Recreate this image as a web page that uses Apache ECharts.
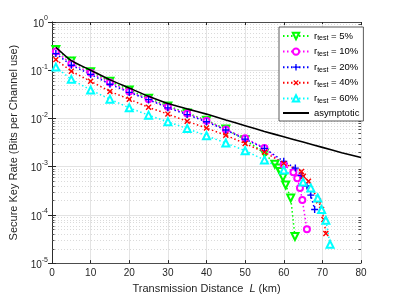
<!DOCTYPE html>
<html><head><meta charset="utf-8">
<script src="https://cdn.jsdelivr.net/npm/echarts@6/dist/echarts.min.js"></script>
<style>html,body{margin:0;padding:0;background:#fff}#c{width:399px;height:299px}</style>
</head><body><div id="c"></div>
<script>
// ---- data ----
const xTicks = [0, 10, 20, 30, 40, 50, 60, 70, 80];
const seriesNames = ['r_test = 5%', 'r_test = 10%', 'r_test = 20%', 'r_test = 40%', 'r_test = 60%', 'asymptotic'];

const L_5 = [1, 5, 10, 15, 20, 25, 30, 35, 40, 45, 50, 55, 57.7, 58.6, 59.2, 59.8, 60.5, 61.8, 62.9];
const R_5 = [0.269, 0.155, 0.0933, 0.0589, 0.0389, 0.0263, 0.0182, 0.0130, 0.00912, 0.00603, 0.00363, 0.00191, 0.00112, 0.000933, 0.000794, 0.000603, 0.000417, 0.000224, 0.0000355];

const L_10 = [1, 5, 10, 15, 20, 25, 30, 35, 40, 45, 50, 55, 60, 62.5, 63.5, 64.2, 64.8, 66];
const R_10 = [0.245, 0.136, 0.0881, 0.0555, 0.0363, 0.0251, 0.0174, 0.0126, 0.00891, 0.00589, 0.00389, 0.00245, 0.00110, 0.000767, 0.000575, 0.000363, 0.000204, 0.0000501];

const L_20 = [1, 5, 10, 15, 20, 25, 30, 35, 40, 45, 50, 55, 60, 63, 64.5, 66, 67, 68];
const R_20 = [0.221, 0.127, 0.082, 0.0513, 0.0347, 0.0245, 0.0166, 0.0120, 0.00851, 0.00575, 0.00372, 0.00240, 0.00129, 0.000933, 0.000661, 0.000398, 0.000257, 0.000129];

const L_40 = [1, 5, 10, 15, 20, 25, 30, 35, 40, 45, 50, 55, 60, 64.6, 65.1, 66.4, 69, 69.8, 70.4, 70.9];
const R_40 = [0.166, 0.0955, 0.0589, 0.0363, 0.0251, 0.0170, 0.0123, 0.00871, 0.00631, 0.00447, 0.00302, 0.00200, 0.00117, 0.000794, 0.000631, 0.000501, 0.000195, 0.000129, 0.0000800, 0.0000412];

const L_60 = [1, 5, 10, 15, 20, 25, 30, 35, 40, 45, 50, 55, 60, 65, 67, 68.8, 69.8, 70.9, 72];
const R_60 = [0.116, 0.0646, 0.0389, 0.0251, 0.0166, 0.0117, 0.00851, 0.00617, 0.00437, 0.00309, 0.00214, 0.00138, 0.000851, 0.000479, 0.000363, 0.000224, 0.000129, 0.0000776, 0.0000245];

const L_asym = [1, 5, 10, 15, 20, 25, 30, 35, 40, 45, 50, 55, 60, 65, 70, 75, 80];
const R_asym = [0.30, 0.158, 0.100, 0.0631, 0.0427, 0.0288, 0.0204, 0.0158, 0.0123, 0.00933, 0.00708, 0.00537, 0.00417, 0.00324, 0.00251, 0.00195, 0.00155];

// ---- build ----
function pairs(xs, ys) { return xs.map((x, i) => [x, ys[i]]); }
const minorVals = [];
for (let d = -5; d < 0; d++) for (let k = 2; k <= 9; k++) minorVals.push([0, k * Math.pow(10, d)]);

const FONT = 'Liberation Sans, Arial, Helvetica, sans-serif';
const AX = '#262626';
const plus = 'path://M-0.2,-1 L0.2,-1 L0.2,-0.2 L1,-0.2 L1,0.2 L0.2,0.2 L0.2,1 L-0.2,1 L-0.2,0.2 L-1,0.2 L-1,-0.2 L-0.2,-0.2 Z';

function lineSeries(name, data, color, symbol, size, rot) {
  const filled = symbol.indexOf('path://') === 0;
  return {
    name, type: 'line', data, xAxisIndex: 0, yAxisIndex: 0,
    symbol, symbolSize: size, symbolRotate: rot || 0, showAllSymbol: true,
    lineStyle: { color, width: 1.5, type: [1.5, 2.5] },
    itemStyle: filled ? { color, borderWidth: 0 } : { color: color, borderColor: color, borderWidth: 1.4 },
    emphasis: { disabled: true }, z: 3
  };
}

const chart = echarts.init(document.getElementById('c'), null, { renderer: 'canvas' });
const supRich = { b: { fontSize: 10, fontFamily: FONT, color: AX, lineHeight: 14, verticalAlign: 'bottom' }, s: { fontSize: 7, fontFamily: FONT, color: AX, lineHeight: 14, verticalAlign: 'top', padding: [0, 0, 5, 0] } };

chart.setOption({
  animation: false,
  backgroundColor: '#fff',
  grid: { left: 52, right: 38, top: 22, bottom: 33 },
  legend: {
    orient: 'vertical', left: 279, top: 27,
    data: seriesNames.slice(0, 5).concat([{ name: 'asymptotic', itemStyle: { opacity: 0 } }]),
    backgroundColor: '#fff', borderColor: '#333', borderWidth: 0.8,
    padding: [3, 4, 3, 3], itemGap: 3.6, itemWidth: 26, itemHeight: 8,
    formatter: n => n === 'asymptotic' ? '{t|asymptotic}' : '{t|r}{u|test}{t| = ' + n.split('= ')[1] + '}',
    textStyle: {
      color: '#000', fontFamily: FONT, fontSize: 9.5,
      rich: {
        t: { fontSize: 9.5, fontFamily: FONT, color: '#000', lineHeight: 11 },
        u: { fontSize: 7, fontFamily: FONT, color: '#000', lineHeight: 8, padding: [5, 0, 0, 0] }
      }
    }
  },
  xAxis: [{
    type: 'value', min: 0, max: 80, interval: 10, position: 'bottom',
    name: 'Transmission Distance  {i|L} (km)', nameLocation: 'middle', nameGap: 19,
    nameTextStyle: { fontFamily: FONT, fontSize: 11, color: AX, rich: { i: { fontStyle: 'italic', fontFamily: FONT, fontSize: 11, color: AX } } },
    axisLine: { show: true, lineStyle: { color: AX, width: 0.8 } },
    axisTick: { show: true, inside: true, length: 3, lineStyle: { color: AX } },
    axisLabel: { fontFamily: FONT, fontSize: 10, color: AX, margin: 5, formatter: v => xTicks.includes(v) ? String(v) : '' },
    splitLine: { show: true, lineStyle: { color: '#e3e3e3', width: 1 } }
  }, {
    type: 'value', min: 0, max: 80, interval: 10, position: 'top',
    axisLine: { show: true, lineStyle: { color: AX, width: 0.8 } },
    axisTick: { show: true, inside: true, length: 3, lineStyle: { color: AX } },
    axisLabel: { show: false }, splitLine: { show: false }
  }],
  yAxis: [{
    type: 'log', logBase: 10, min: 1e-5, max: 1, position: 'left',
    name: 'Secure Key Rate (Bits per Channel use)', nameLocation: 'middle', nameGap: 32,
    nameTextStyle: { fontFamily: FONT, fontSize: 11, color: AX },
    axisLine: { show: true, lineStyle: { color: AX, width: 0.8 } },
    axisTick: { show: true, inside: true, length: 4, lineStyle: { color: AX } },
    axisLabel: {
      fontFamily: FONT, fontSize: 10, color: AX, margin: 4,
      formatter: v => '{b|10}{s|' + Math.round(Math.log10(v)) + '}', rich: supRich
    },
    splitLine: { show: true, lineStyle: { color: '#e3e3e3', width: 1 } }
  }, {
    type: 'log', logBase: 10, min: 1e-5, max: 1, position: 'right',
    axisLine: { show: true, lineStyle: { color: AX, width: 0.8 } },
    axisTick: { show: true, inside: true, length: 4, lineStyle: { color: AX } },
    axisLabel: { show: false }, splitLine: { show: false }
  }],
  series: [
    {
      name: 'minor', type: 'custom', xAxisIndex: 0, yAxisIndex: 0, data: minorVals, silent: true, z: 1,
      renderItem: (params, api) => {
        const v = api.value(1);
        const p0 = api.coord([0, v]), p1 = api.coord([80, v]);
        const y = Math.round(p0[1]) + 0.5;
        return {
          type: 'group', children: [
            { type: 'line', shape: { x1: p0[0], y1: y, x2: p1[0], y2: y }, style: { stroke: '#dadada', lineWidth: 1, lineDash: [1, 2] } },
            { type: 'line', shape: { x1: p0[0], y1: y, x2: p0[0] + 2.5, y2: y }, style: { stroke: AX, lineWidth: 0.8 } },
            { type: 'line', shape: { x1: p1[0] - 2.5, y1: y, x2: p1[0], y2: y }, style: { stroke: AX, lineWidth: 0.8 } }
          ]
        };
      }
    },
    lineSeries(seriesNames[0], pairs(L_5, R_5), '#00ff00', 'emptyTriangle', 7, 180),
    lineSeries(seriesNames[1], pairs(L_10, R_10), '#ff00ff', 'emptyCircle', 6, 0),
    lineSeries(seriesNames[2], pairs(L_20, R_20), '#0000ff', plus, 7, 0),
    lineSeries(seriesNames[3], pairs(L_40, R_40), '#ff0000', plus, 7, 45),
    lineSeries(seriesNames[4], pairs(L_60, R_60), '#00ffff', 'emptyTriangle', 7, 0),
    {
      name: seriesNames[5], type: 'line', data: pairs(L_asym, R_asym), symbol: 'none', smooth: 0.2,
      lineStyle: { color: '#000', width: 1.6, type: 'solid' }, itemStyle: { color: '#000' }, z: 4, emphasis: { disabled: true }
    }
  ]
});
</script></body></html>
